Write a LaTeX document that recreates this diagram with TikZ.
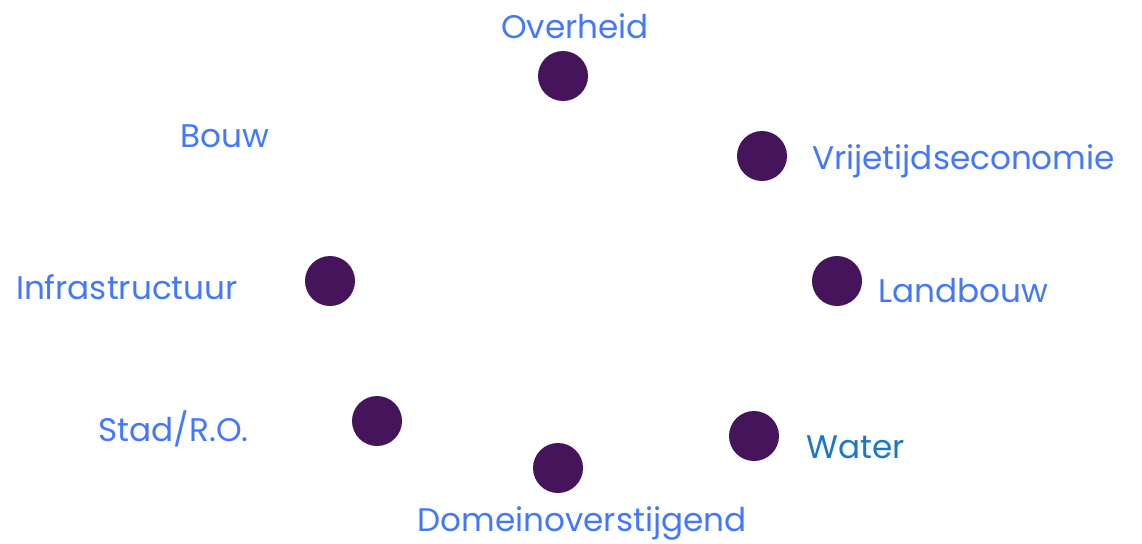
\documentclass[tikz,border=0pt]{standalone}
\usepackage{fontspec}
\setmainfont{Poppins}
\definecolor{dotc}{HTML}{45145A}
\definecolor{labc}{HTML}{4477FF}
\definecolor{watc}{HTML}{1A78C8}
\begin{document}
\begin{tikzpicture}[x=0.75pt,y=-0.75pt,
  dot/.style={circle,fill=dotc,minimum size=37.5pt,inner sep=0pt},
  lab/.style={text=labc,font=\fontsize{24.5}{28}\selectfont,inner sep=0pt}]
\useasboundingbox (0,0) rectangle (1142,543);
\node[dot] (d1) at (563,76) {};
\node[dot] (d2) at (762,156) {};
\node[dot] (d3) at (837,281) {};
\node[dot] (d4) at (330,281) {};
\node[dot] (d5) at (377,421) {};
\node[dot] (d6) at (558,468) {};
\node[dot] (d7) at (754,436) {};
\node[lab] (l1) at (575,26) {Overheid};
\node[lab] (l0) at (225,136) {Bouw};
\node[lab,anchor=west] (l2) at (812,161) {Vrijetijdseconomie};
\node[lab,anchor=west] (l3) at (878,291) {Landbouw};
\node[lab,anchor=east] (l4) at (238,287) {Infrastructuur};
\node[lab,anchor=east] (l5) at (249,429) {Stad/R.O.};
\node[lab,anchor=west,text=watc] (l7) at (806,447) {Water};
\node[lab] (l6) at (582,523) {Domeinoverstijgend};
\end{tikzpicture}
\end{document}
